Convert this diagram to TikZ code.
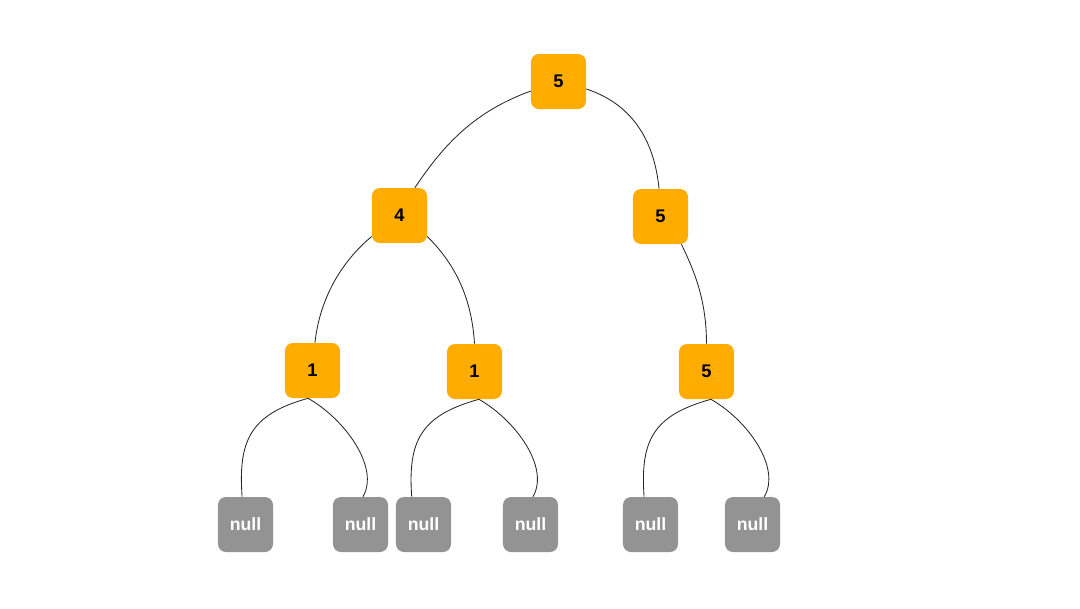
\documentclass[tikz,border=0pt]{standalone}
\usepackage{fontspec}
\setmainfont{Liberation Sans}
\usepackage{tikz}
\definecolor{keyorange}{RGB}{255,172,0}
\definecolor{nullgray}{RGB}{147,147,147}
\tikzset{
  treenode/.style = {shape=rectangle, rounded corners=0.2cm,
                     minimum size=1.375cm, inner sep=0pt, align=center},
  valnode/.style  = {treenode, fill=keyorange, text=black,
                     font=\bfseries\fontsize{13}{16}\selectfont},
  nullnode/.style = {treenode, fill=nullgray, text=white,
                     font=\bfseries\fontsize{12.6}{15}\selectfont},
  link/.style     = {draw=black!85, line width=0.6pt}
}
\begin{document}
\begin{tikzpicture}
 [x=0.025cm, y=-0.025cm]
  \useasboundingbox (0,0) rectangle (1080,608);

  \node [valnode] (root) at (558.5,81.5) {5};
  \node [valnode] (l)    at (399.5,215.5) {4};
  \node [valnode] (r)    at (660.5,216.5) {5};
  \node [valnode] (ll)   at (312.5,370.5) {1};
  \node [valnode] (lr)   at (474.5,371.5) {1};
  \node [valnode] (rr)   at (706.5,371.5) {5};

  \node [nullnode] (n1) at (245.5,524.5) {null};
  \node [nullnode] (n2) at (360.5,524.5) {null};
  \node [nullnode] (n3) at (423.5,524.5) {null};
  \node [nullnode] (n4) at (530.5,524.5) {null};
  \node [nullnode] (n5) at (650.5,524.5) {null};
  \node [nullnode] (n6) at (752.5,524.5) {null};

  % upper levels
  \draw [link] (root.199) .. controls +(-55,20) and +(30,-45) .. (l.61);
  \draw [link] (root.345) .. controls +(45,15) and +(-5,-50) .. (r.93);
  \draw [link] (l.217) .. controls +(-30,25) and +(5,-45) .. (ll.85);
  \draw [link] (l.323) .. controls +(25,25) and +(-3,-50) .. (lr.north);
  \draw [link] (r.307) .. controls +(12,25) and +(0,-45) .. (rr.north);

  % leaves
  \draw [link] (ll.261) .. controls +(-58,16) and +(-4,-56) .. (n1.97);
  \draw [link] (ll.261) .. controls +(37,21) and +(17,-29) .. (n2.85);
  \draw [link] (lr.279) .. controls +(-58,16) and +(-4,-56) .. (n3.113);
  \draw [link] (lr.279) .. controls +(37,21) and +(17,-29) .. (n4.85);
  \draw [link] (rr.279) .. controls +(-58,16) and +(-4,-56) .. (n5.103);
  \draw [link] (rr.279) .. controls +(37,21) and +(17,-29) .. (n6.67);
\end{tikzpicture}
\end{document}
